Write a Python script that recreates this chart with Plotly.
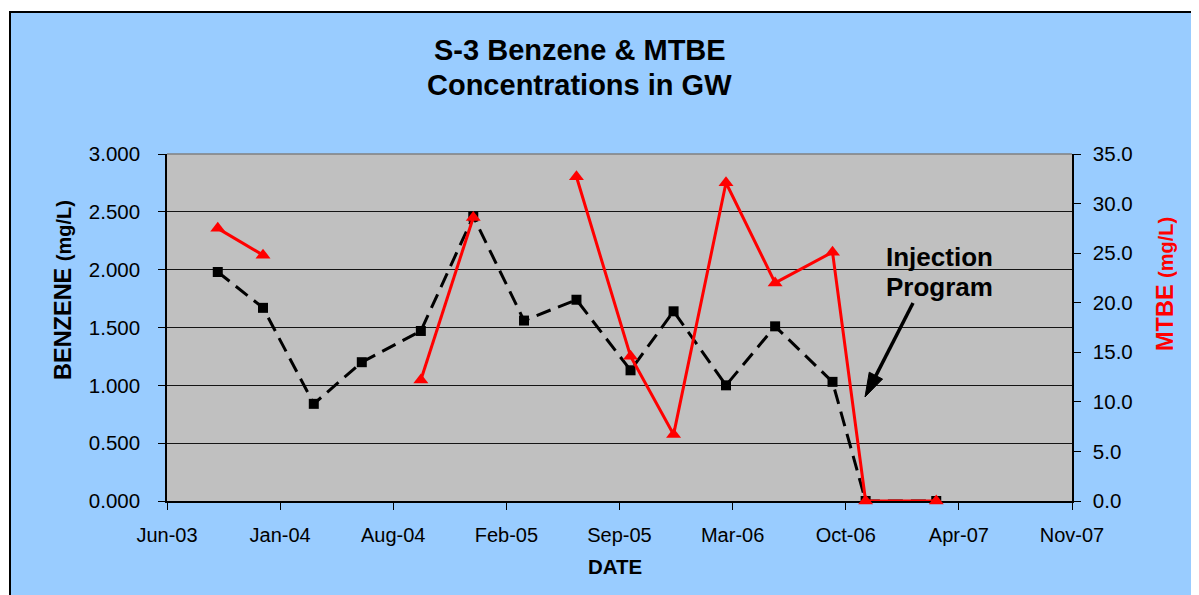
import datetime as dt
import math
import plotly.graph_objects as go

# ---------------- data ----------------
sample_dates = ["2003-09-10", "2003-12-01", "2004-03-02", "2004-05-28", "2004-09-12",
                "2004-12-16", "2005-03-18", "2005-06-21", "2005-09-27", "2005-12-14",
                "2006-03-19", "2006-06-16", "2006-09-28", "2006-11-27", "2007-04-04"]
benzene = [1.98, 1.67, 0.84, 1.20, 1.47, 2.46, 1.56, 1.74, 1.13, 1.64, 1.00, 1.51, 1.03, 0.0, 0.0]
mtbe = [27.5, 24.8, None, None, 12.2, 28.6, None, 32.7, 14.6, 6.7, 32.1, 22.0, 25.1, 0.0, 0.0]

x_tick_labels = ["Jun-03", "Jan-04", "Aug-04", "Feb-05", "Sep-05", "Mar-06", "Oct-06", "Apr-07", "Nov-07"]
x_start = dt.date(2003, 6, 10)
x_step_days = 205

benz_ticks = [0.0, 0.5, 1.0, 1.5, 2.0, 2.5, 3.0]
mtbe_ticks = [0, 5, 10, 15, 20, 25, 30, 35]

# ---------------- layout helpers ----------------
OFF = 8  # page body margin
W, H = 1199 - OFF, 595 - OFF
PL, PR, PT, PB = 167, 1072, 154, 501  # plot area in page pixels


def px(xpix):
    return (xpix - PL) / (PR - PL)


def py(ypix):
    return (PB - ypix) / (PB - PT)


tick_dates = [x_start + dt.timedelta(days=x_step_days * i) for i in range(len(x_tick_labels))]
FONT = "Liberation Sans, Arial, sans-serif"

fig = go.Figure()
fig.add_trace(go.Scatter(
    x=sample_dates, y=benzene, mode="lines+markers", name="Benzene",
    line=dict(color="black", width=3, dash="15px,8px"),
    marker=dict(symbol="square", size=10, color="black"),
    yaxis="y", showlegend=False,
))
fig.add_trace(go.Scatter(
    x=sample_dates, y=mtbe, mode="lines+markers", name="MTBE",
    line=dict(color="#FF0000", width=3),
    marker=dict(symbol="triangle-up", size=13, color="#FF0000"),
    yaxis="y2", connectgaps=False, showlegend=False, cliponaxis=False,
))

fig.update_layout(
    width=W, height=H, autosize=False,
    margin=dict(l=PL - OFF, r=W - (PR - OFF), t=PT - OFF, b=H - (PB - OFF), pad=0),
    paper_bgcolor="white",
    plot_bgcolor="#C0C0C0",
    font=dict(family=FONT, color="black", size=20),
    xaxis=dict(
        type="date",
        range=[x_start.isoformat(), (x_start + dt.timedelta(days=x_step_days * 8)).isoformat()],
        tickmode="array", tickvals=[d.isoformat() for d in tick_dates], ticktext=x_tick_labels,
        ticks="outside", ticklen=7, tickwidth=1.2, tickcolor="black",
        showline=True, linecolor="black", linewidth=1.5,
        showgrid=False, zeroline=False, layer="below traces",
        tickfont=dict(size=20), ticklabelstandoff=8,
    ),
    yaxis=dict(
        range=[0, 3], tickmode="array", tickvals=benz_ticks,
        tickformat=".3f",
        ticks="outside", ticklen=7, tickwidth=1.2, tickcolor="black",
        showline=True, linecolor="black", linewidth=1.5,
        showgrid=True, gridcolor="#141414", gridwidth=1, zeroline=False,
        tickfont=dict(size=20.5), ticklabelstandoff=14,
    ),
    yaxis2=dict(
        range=[0, 35], tickmode="array", tickvals=mtbe_ticks,
        tickformat=".1f", overlaying="y", side="right", anchor="x",
        ticks="outside", ticklen=7, tickwidth=1.2, tickcolor="black",
        showline=True, linecolor="black", linewidth=1.5,
        showgrid=False, zeroline=False,
        tickfont=dict(size=20.5), ticklabelstandoff=8,
    ),
    yaxis3=dict(
        range=[0, 35], tickmode="array", tickvals=mtbe_ticks,
        overlaying="y", side="right", anchor="x",
        ticks="inside", ticklen=8, tickwidth=1.2, tickcolor="black",
        showticklabels=False, showline=False, showgrid=False, zeroline=False,
    ),
)

# arrow for the "Injection Program" callout (page pixel geometry)
tail = (913.0, 303.0)
tip = (865.0, 397.0)
head_len, head_half = 24.0, 7.5
dx, dy = tip[0] - tail[0], tip[1] - tail[1]
L = math.hypot(dx, dy)
ux, uy = dx / L, dy / L
bx, by = tip[0] - head_len * ux, tip[1] - head_len * uy
nx, ny = -uy, ux
c1 = (bx + head_half * nx, by + head_half * ny)
c2 = (bx - head_half * nx, by - head_half * ny)
head_path = "M {:.5f},{:.5f} L {:.5f},{:.5f} L {:.5f},{:.5f} Z".format(
    px(tip[0]), py(tip[1]), px(c1[0]), py(c1[1]), px(c2[0]), py(c2[1]))

shapes = [
    # outer light-blue chart area with black border
    dict(type="rect", xref="paper", yref="paper", layer="below",
         x0=px(10), x1=px(1260), y0=py(660), y1=py(12),
         fillcolor="#99CCFF", line=dict(color="black", width=2)),
    # grey plot area
    dict(type="rect", xref="paper", yref="paper", layer="below",
         x0=0, x1=1, y0=0, y1=1, fillcolor="#C0C0C0", line=dict(width=0)),
    # grey top border of plot
    dict(type="line", xref="paper", yref="paper", x0=0, x1=1, y0=1, y1=1,
         line=dict(color="#808080", width=1.5)),
    # arrow shaft
    dict(type="line", xref="paper", yref="paper",
         x0=px(tail[0]), y0=py(tail[1]), x1=px(bx + 2 * ux), y1=py(by + 2 * uy),
         line=dict(color="black", width=3.5)),
    # arrow head
    dict(type="path", xref="paper", yref="paper", path=head_path,
         fillcolor="black", line=dict(color="black", width=1)),
]
fig.update_layout(shapes=shapes)

annotations = [
    dict(text="<b>S-3 Benzene &amp; MTBE</b>", x=px(580), y=py(50), xref="paper", yref="paper",
         showarrow=False, font=dict(size=29, family=FONT), xanchor="center", yanchor="middle"),
    dict(text="<b>Concentrations in GW</b>", x=px(579), y=py(85), xref="paper", yref="paper",
         showarrow=False, font=dict(size=29, family=FONT), xanchor="center", yanchor="middle"),
    dict(text="<b>BENZENE <span style='font-size:20px'>(mg/L)</span></b>", x=px(63), y=py(290),
         xref="paper", yref="paper", textangle=-90, showarrow=False,
         font=dict(size=23.5, family=FONT), xanchor="center", yanchor="middle"),
    dict(text="<b>MTBE <span style='font-size:20px'>(mg/L)</span></b>", x=px(1165), y=py(284),
         xref="paper", yref="paper", textangle=-90, showarrow=False,
         font=dict(size=23.5, family=FONT, color="#FF0000"), xanchor="center", yanchor="middle"),
    dict(text="<b>DATE</b>", x=px(615), y=py(566), xref="paper", yref="paper",
         showarrow=False, font=dict(size=20.5, family=FONT), xanchor="center", yanchor="middle"),
    dict(text="<b>Injection</b>", x=px(939), y=py(257), xref="paper", yref="paper",
         showarrow=False, font=dict(size=26, family=FONT), xanchor="center", yanchor="middle"),
    dict(text="<b>Program</b>", x=px(939), y=py(287), xref="paper", yref="paper",
         showarrow=False, font=dict(size=26, family=FONT), xanchor="center", yanchor="middle"),
]
fig.update_layout(annotations=annotations)

fig.write_html("out.html")
